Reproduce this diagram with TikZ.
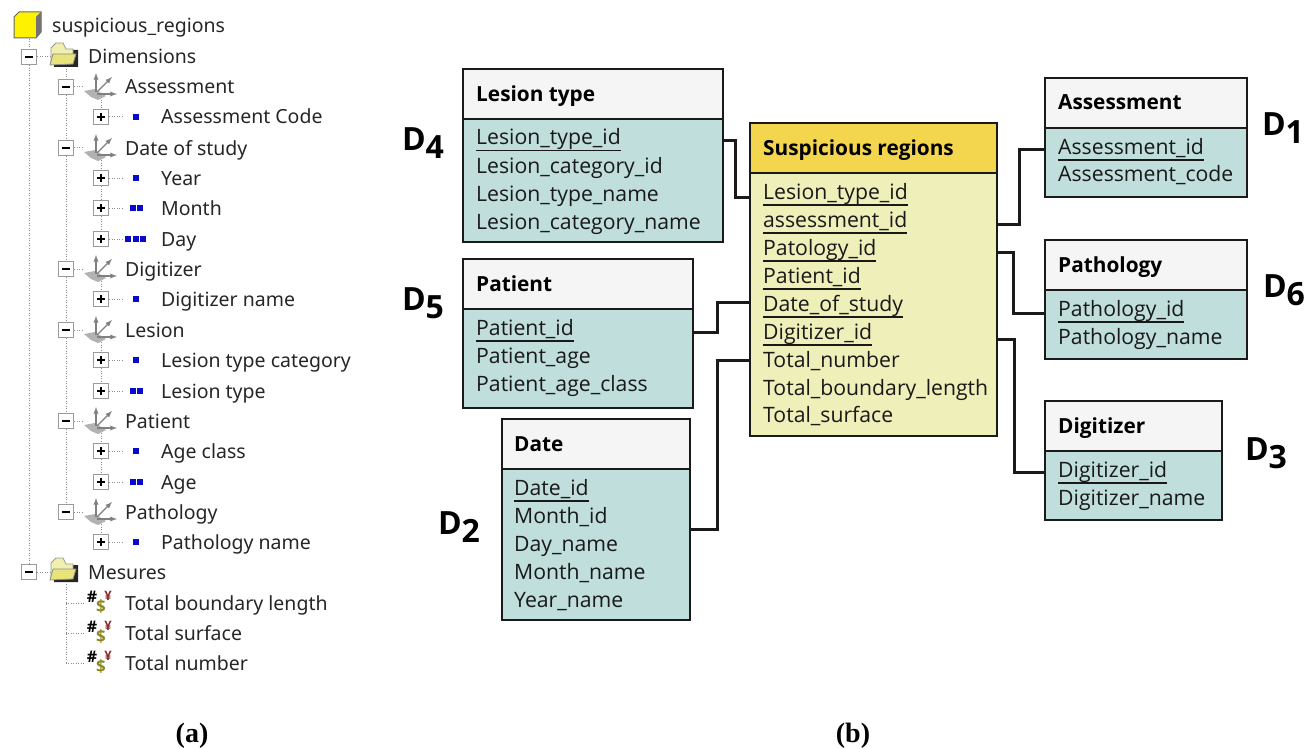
\documentclass[tikz,border=0pt]{standalone}
\usepackage{fontspec}
\setmainfont{Open Sans}
\newfontfamily\treefont{Noto Sans}
\newfontfamily\capfont{Liberation Serif}
\usetikzlibrary{positioning}
\definecolor{headgray}{HTML}{F5F5F5}
\definecolor{bodyteal}{HTML}{BFDEDC}
\definecolor{headgold}{HTML}{F3D54E}
\definecolor{bodycream}{HTML}{EEEFB9}
\definecolor{linkdark}{HTML}{1A1A1A}
\definecolor{treegray}{HTML}{8C8C8C}
\definecolor{btngray}{HTML}{9A9A9A}
\definecolor{cubeyellow}{HTML}{FFF200}
\definecolor{folderyellow}{HTML}{E8E47A}
\definecolor{levelblue}{HTML}{0A0ACD}
\definecolor{olivemark}{HTML}{8A8A1E}
\definecolor{redmark}{HTML}{8C2A2A}
\newcommand{\dimlabel}[1]{D\raisebox{-8pt}{#1}}
\newcommand{\idname}[1]{\setbox0\hbox{#1}\rlap{\rule[-6.5pt]{\wd0}{1.7pt}}\box0}
\tikzset{
    headbox/.style={draw=linkdark, line width=2pt, fill=headgray, anchor=north west, inner sep=0pt, outer sep=0pt},
    bodybox/.style={draw=linkdark, line width=2pt, fill=bodyteal, anchor=north west, inner sep=0pt, outer sep=0pt},
    headtxt/.style={anchor=base west, yshift=-1pt, inner sep=0pt, font=\fontsize{20.8}{25}\selectfont\bfseries},
    rowtxt/.style={anchor=base west, inner sep=0pt, text=black!90, font=\fontsize{21.2}{26}\selectfont},
    dimtxt/.style={inner sep=0pt, font=\fontsize{32}{36}\selectfont\bfseries},
    joinline/.style={draw=linkdark, line width=3pt},
    treetxt/.style={anchor=base west, inner sep=0pt, text=black!85, font=\treefont\fontsize{19.5}{24}\selectfont},
    treedot/.style={draw=treegray, line width=1pt, dash pattern=on 1pt off 1.5pt},
    btn/.style={draw=btngray, fill=white, line width=1.5pt, minimum size=15pt, inner sep=0pt},
    minusbtn/.style={btn, path picture={\draw[black, line width=1.3pt]
        ([xshift=-4pt]path picture bounding box.center) -- ([xshift=4pt]path picture bounding box.center);}},
    plusbtn/.style={btn, path picture={\draw[black, line width=1.3pt]
        ([xshift=-4pt]path picture bounding box.center) -- ([xshift=4pt]path picture bounding box.center)
        ([yshift=-4pt]path picture bounding box.center) -- ([yshift=4pt]path picture bounding box.center);}},
    lvl/.style={fill=levelblue, draw=none, minimum size=6pt, inner sep=0pt},
    captxt/.style={inner sep=0pt, font=\capfont\fontsize{28}{30}\selectfont\bfseries},
    foldericon/.pic={
        \fill[black!85] (-10,10) -- (14,10) -- (14,-7) -- (8,-7) -- (8,4) -- (-10,4) -- cycle;
        \draw[black!40, fill=folderyellow!60, line width=0.8pt] (-13,6) -- (-13,-9) -- (-8,-14) -- (-1,-14) -- (2,-8) -- (9,-8) -- (9,6) -- cycle;
        \draw[black!45, fill=folderyellow, line width=0.8pt] (-14,8) -- (-11,-3) -- (12,-3) -- (9,7) -- cycle;
    },
    dimensionicon/.pic={
        \fill[black!30] (-17,4) -- (-6,2) -- (5,9) -- (-3,13) -- (-10,10) -- cycle;
        \draw[black!50, line width=1.3pt, ->, >=latex] (-5,5) -- (-5,-14);
        \draw[black!50, line width=1.3pt, ->, >=latex] (-4,5) -- (11,-10);
        \draw[black!50, line width=1.3pt, ->, >=latex] (-4,7) -- (16,7);
    },
    measureicon/.pic={
        \node[inner sep=0pt, font=\fontsize{16}{18}\selectfont\bfseries] at (0,0) {\#};
        \node[inner sep=0pt, text=olivemark, font=\fontsize{17}{19}\selectfont\bfseries] at (9,10) {\$};
        \node[inner sep=0pt, text=redmark, font=\fontsize{13}{15}\selectfont\bfseries] at (16,-1) {¥};
    }
}
\begin{document}
\begin{tikzpicture}[x=1pt, y=-1pt]
    \useasboundingbox (0,0) rectangle (1309,749);

    % tree on the left
    \draw[black!60, fill=cubeyellow, line width=1pt] (14,17) -- (19,12) -- (41,12) -- (41,32) -- (36,38) -- (14,38) -- cycle;
    \fill[black!55] (36,17) -- (41,12) -- (41,32) -- (36,38) -- cycle;
    \node[treetxt] (root) at (52,33) {suspicious\_regions};
    \node[minusbtn] (dimsbtn) at (29,57) {};
    \node[minusbtn] (mesbtn) at (29,572) {};
    \coordinate (rootfoot) at (29,39);
    \draw[treedot] (rootfoot) -- (dimsbtn);
    \draw[treedot] (dimsbtn) -- (mesbtn);
    \draw[treedot] (dimsbtn) -- ++(24,0);
    \draw[treedot] (mesbtn) -- ++(24,0);
    \pic at (64,57) {foldericon};
    \pic at (64,572) {foldericon};
    \node[treetxt] (dims) at (88,64) {Dimensions};
    \node[treetxt] (mes) at (88,579) {Mesures};

    \foreach \nm/\y/\txt in {dassess/87/Assessment, ddate/148/Date of study, ddig/269/Digitizer,
        dles/330/Lesion, dpat/421/Patient, dpath/512/Pathology} {
        \node[minusbtn] (\nm btn) at (66,\y) {};
        \pic at (101,\y) {dimensionicon};
        \node[treetxt] (\nm) at (125,\y+7) {\txt};
    }
    \coordinate (dimsfoot) at (66,69);
    \draw[treedot] (dimsfoot) -- (dassessbtn);
    \foreach \a/\b in {dassess/ddate, ddate/ddig, ddig/dles, dles/dpat, dpat/dpath} {
        \draw[treedot] (\a btn) -- (\b btn);
    }
    \foreach \nm in {dassess, ddate, ddig, dles, dpat, dpath} {
        \draw[treedot] (\nm btn) -- ++(18,0);
    }

    \foreach \nm/\y/\txt in {rcode/117/Assessment Code, ryear/178/Year, rmonth/208/Month,
        rday/239/Day, rdigname/299/Digitizer name, rcat/360/Lesion type category,
        rtype/391/Lesion type, rage1/451/Age class, rage2/482/Age, rpname/542/Pathology name} {
        \node[plusbtn] (\nm btn) at (101,\y) {};
        \draw[treedot] (\nm btn) -- ++(22,0);
        \node[treetxt] (\nm) at (161,\y+7) {\txt};
    }
    % level marks, one to three squares
    \foreach \y in {117,178,299,360,451,542} {
        \node[lvl] at (136,\y) {};
    }
    \foreach \y in {208,391,482} {
        \node[lvl] at (132.5,\y) {};
        \node[lvl] at (139.5,\y) {};
    }
    \foreach \x in {128,135.5,143} {
        \node[lvl] at (\x,239) {};
    }
    \foreach \y/\b in {100/rcode, 160/ryear, 281/rdigname, 342/rcat, 433/rage1, 524/rpname} {
        \coordinate (top\b) at (101,\y);
        \draw[treedot] (top\b) -- (\b btn);
    }
    \foreach \a/\b in {ryear/rmonth, rmonth/rday, rcat/rtype, rage1/rage2} {
        \draw[treedot] (\a btn) -- (\b btn);
    }

    \coordinate (mesfoot) at (66,584);
    \foreach \nm/\y/\txt in {mlen/603/Total boundary length, msurf/633/Total surface, mnum/663/Total number} {
        \pic at (92,\y-6) {measureicon};
        \node[treetxt] (\nm) at (125,\y+7) {\txt};
        \coordinate (\nm end) at (84,\y);
        \draw[treedot] (\nm end) -- (66,\y);
    }
    \draw[treedot] (mesfoot) -- (66,663);

    % dimension tables
    \node[headbox, minimum width=260pt, minimum height=50pt] (lthead) at (463,69) {};
    \node[bodybox, minimum width=260pt, minimum height=123pt] (ltbody) at (463,119) {};
    \node[headtxt] (lttitle) at (476,101) {Lesion type};
    \node[rowtxt] (lt1) at (476,145) {\idname{Lesion\_type\_id}};
    \foreach \nm/\y/\txt in {lt2/173/Lesion\_category\_id, lt3/201/Lesion\_type\_name, lt4/229/Lesion\_category\_name} {
        \node[rowtxt] (\nm) at (476,\y) {\txt};
    }

    \node[headbox, minimum width=230pt, minimum height=50pt] (pahead) at (463,259) {};
    \node[bodybox, minimum width=230pt, minimum height=99pt] (pabody) at (463,309) {};
    \node[headtxt] (patitle) at (476,290) {Patient};
    \node[rowtxt] (pa1) at (476,335) {\idname{Patient\_id}};
    \foreach \nm/\y/\txt in {pa2/363/Patient\_age, pa3/391/Patient\_age\_class} {
        \node[rowtxt] (\nm) at (476,\y) {\txt};
    }

    \node[headbox, minimum width=188pt, minimum height=50pt] (dahead) at (502,419) {};
    \node[bodybox, minimum width=188pt, minimum height=151pt] (dabody) at (502,469) {};
    \node[headtxt] (datitle) at (514,450) {Date};
    \node[rowtxt] (da1) at (514,495) {\idname{Date\_id}};
    \foreach \nm/\y/\txt in {da2/523/Month\_id, da3/551/Day\_name, da4/579/Month\_name, da5/607/Year\_name} {
        \node[rowtxt] (\nm) at (514,\y) {\txt};
    }

    \node[headbox, minimum width=202pt, minimum height=50pt] (ashead) at (1045,78) {};
    \node[bodybox, minimum width=202pt, minimum height=69pt] (asbody) at (1045,128) {};
    \node[headtxt] (astitle) at (1058,109) {Assessment};
    \node[rowtxt] (as1) at (1058,154) {\idname{Assessment\_id}};
    \node[rowtxt] (as2) at (1058,182) {Assessment\_code};

    \node[headbox, minimum width=202pt, minimum height=50pt] (pthead) at (1045,240) {};
    \node[bodybox, minimum width=202pt, minimum height=69pt] (ptbody) at (1045,290) {};
    \node[headtxt] (pttitle) at (1058,271) {Pathology};
    \node[rowtxt] (pt1) at (1058,316) {\idname{Pathology\_id}};
    \node[rowtxt] (pt2) at (1058,344) {Pathology\_name};

    \node[headbox, minimum width=177pt, minimum height=50pt] (dghead) at (1045,401) {};
    \node[bodybox, minimum width=177pt, minimum height=69pt] (dgbody) at (1045,451) {};
    \node[headtxt] (dgtitle) at (1058,432) {Digitizer};
    \node[rowtxt] (dg1) at (1058,477) {\idname{Digitizer\_id}};
    \node[rowtxt] (dg2) at (1058,505) {Digitizer\_name};

    % fact table
    \node[headbox, fill=headgold, minimum width=247pt, minimum height=50pt] (srhead) at (750,123) {};
    \node[bodybox, fill=bodycream, minimum width=247pt, minimum height=263pt] (srbody) at (750,173) {};
    \node[headtxt] (srtitle) at (763,154) {Suspicious regions};
    \foreach \nm/\y/\txt in {sr1/199/Lesion\_type\_id, sr2/227/assessment\_id, sr3/255/Patology\_id,
        sr4/283/Patient\_id, sr5/311/Date\_of\_study, sr6/339/Digitizer\_id} {
        \node[rowtxt] (\nm) at (763,\y) {\idname{\txt}};
    }
    \foreach \nm/\y/\txt in {sr7/367/Total\_number, sr8/395/Total\_boundary\_length, sr9/422/Total\_surface} {
        \node[rowtxt] (\nm) at (763,\y) {\txt};
    }

    % links between tables
    \draw[joinline] ([yshift=4pt]lt1.base -| ltbody.east) -- ++(12,0) |- ([yshift=2pt]sr1.base -| srbody.west);
    \draw[joinline] ([yshift=3pt]sr2.base -| srbody.east) -- ++(22,0) |- ([yshift=4pt]as1.base -| asbody.west);
    \draw[joinline] ([yshift=3pt]sr3.base -| srbody.east) -- ++(16,0) |- ([yshift=3pt]pt1.base -| ptbody.west);
    \draw[joinline] (sr6.base -| srbody.east) -- ++(17,0) |- ([yshift=5pt]dg1.base -| dgbody.west);
    \draw[joinline] ([yshift=3pt]pa1.base -| pabody.east) -- ++(24,0) |- ([yshift=9pt]sr5.base -| srbody.west);
    \draw[joinline] ([yshift=15pt]dabody.east) -- ++(27,0) |- ([yshift=7pt]sr7.base -| srbody.west);

    % dimension names
    \node[dimtxt] (d4) at (423,143) {\dimlabel{4}};
    \node[dimtxt] (d5) at (423,303) {\dimlabel{5}};
    \node[dimtxt] (d2) at (459,527) {\dimlabel{2}};
    \node[dimtxt] (d1) at (1283,128) {\dimlabel{1}};
    \node[dimtxt] (d6) at (1284,290) {\dimlabel{6}};
    \node[dimtxt] (d3) at (1266,453) {\dimlabel{3}};

    \node[captxt] (capa) at (192,736) {(a)};
    \node[captxt] (capb) at (853,736) {(b)};
\end{tikzpicture}
\end{document}
